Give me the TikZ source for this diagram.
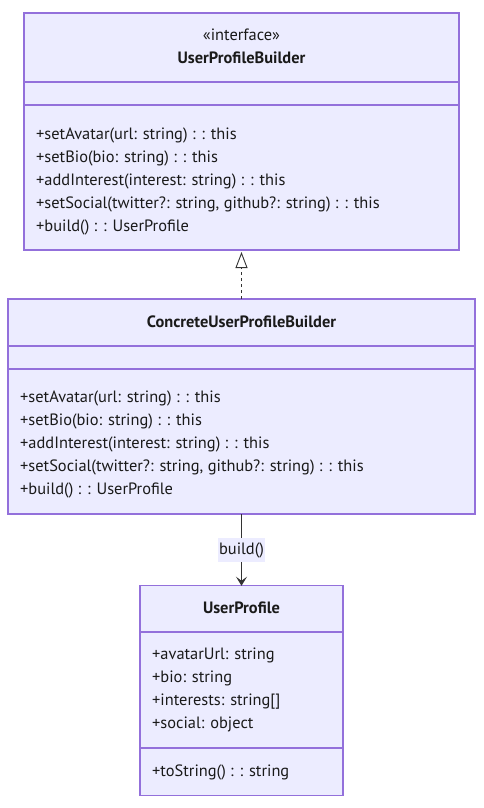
\documentclass[tikz,border=0pt]{standalone}
\usepackage{fontspec}
\setmainfont{PT Sans}
\usepackage{xcolor}
\usetikzlibrary{arrows.meta,positioning}

\definecolor{clsfill}{HTML}{ECECFF}
\definecolor{clsdraw}{HTML}{9370DB}
\definecolor{inktext}{HTML}{1A1A1A}
\definecolor{inkline}{HTML}{333333}

\begin{document}
\begin{tikzpicture}[x=1pt,y=-1pt,
  classbox/.style={draw=clsdraw,fill=clsfill,rectangle,line width=1.3pt,outer sep=0pt,inner sep=0pt},
  divider/.style={draw=clsdraw,line width=1.3pt},
  txt/.style={inner sep=0pt,text height=12pt,text depth=3.5pt,text=inktext,font=\fontsize{16.4pt}{19pt}\selectfont},
  member/.style={txt,anchor=west},
  title/.style={txt,font=\fontsize{16.4pt}{19pt}\selectfont\bfseries},
  realize/.style={draw=inkline,line width=0.9pt,dash pattern=on 3pt off 3pt,-{Triangle[length=16pt,width=12pt,fill=white]},shorten >=2pt},
  assoc/.style={draw=inkline,line width=0.9pt,-{Stealth[length=9pt,width=11pt,inset=4pt]}},
  edgelabel/.style={txt,fill=clsfill,inner xsep=1.5pt,inner ysep=4pt}
]
\useasboundingbox (0,0) rectangle (483,808);

% Interface UserProfileBuilder
\node[classbox,minimum width=435pt,minimum height=237pt] (upb) at (241.5,131.5) {};
\draw[divider] (upb.west |- 0,82) -- (upb.east |- 0,82);
\draw[divider] (upb.west |- 0,105) -- (upb.east |- 0,105);
\node[txt] (upbstereo) at (241.5,36) {«interface»};
\node[title] (upbname) at (241.5,59) {UserProfileBuilder};
\node[member] (upbm1) at (36,135) {+setAvatar(url: string) : : this};
\node[member] (upbm2) at (36,158) {+setBio(bio: string) : : this};
\node[member] (upbm3) at (36,181) {+addInterest(interest: string) : : this};
\node[member] (upbm4) at (36,204) {+setSocial(twitter?: string, github?: string) : : this};
\node[member] (upbm5) at (36,227.5) {+build() : : UserProfile};

% ConcreteUserProfileBuilder
\node[classbox,minimum width=467pt,minimum height=215pt] (cupb) at (241.5,406.5) {};
\draw[divider] (cupb.west |- 0,346) -- (cupb.east |- 0,346);
\draw[divider] (cupb.west |- 0,369) -- (cupb.east |- 0,369);
\node[title] (cupbname) at (241.5,323) {ConcreteUserProfileBuilder};
\node[member] (cupbm1) at (20,398) {+setAvatar(url: string) : : this};
\node[member] (cupbm2) at (20,421) {+setBio(bio: string) : : this};
\node[member] (cupbm3) at (20,444) {+addInterest(interest: string) : : this};
\node[member] (cupbm4) at (20,467) {+setSocial(twitter?: string, github?: string) : : this};
\node[member] (cupbm5) at (20,490.5) {+build() : : UserProfile};

% UserProfile
\node[classbox,minimum width=203pt,minimum height=209.5pt] (up) at (241.5,690.5) {};
\draw[divider] (up.west |- 0,632) -- (up.east |- 0,632);
\draw[divider] (up.west |- 0,748) -- (up.east |- 0,748);
\node[title] (upname) at (241.5,609) {UserProfile};
\node[member] (upa1) at (152,655.5) {+avatarUrl: string};
\node[member] (upa2) at (152,678.5) {+bio: string};
\node[member] (upa3) at (152,701.5) {+interests: string[]};
\node[member] (upa4) at (152,724.5) {+social: object};
\node[member] (upm1) at (152,772.5) {+toString() : : string};

% Relations
\draw[realize] (cupb.north) -- (upb.south);
\draw[assoc] (cupb.south) -- node[edgelabel] (buildlbl) {build()} (up.north);

\end{tikzpicture}
\end{document}
